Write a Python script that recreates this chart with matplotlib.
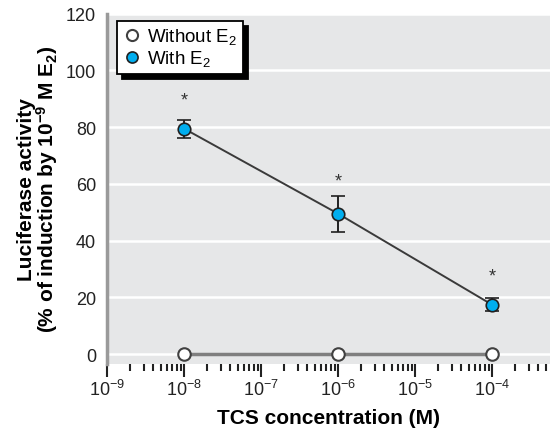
import numpy as np
import matplotlib.pyplot as plt
from matplotlib.lines import Line2D
from matplotlib.ticker import LogLocator, NullFormatter

# data
conc = [1e-8, 1e-6, 1e-4]
with_e2 = [79.5, 49.5, 17.4]
with_e2_err = [3.2, 6.3, 2.2]
without_e2 = [0, 0, 0]
star_y = [89.5, 61, 27.5]

plt.rcParams['font.family'] = ['Liberation Sans', 'DejaVu Sans']
plt.rcParams['mathtext.fontset'] = 'custom'
plt.rcParams['mathtext.rm'] = 'Liberation Sans'
plt.rcParams['mathtext.bf'] = 'Liberation Sans:bold'
plt.rcParams['mathtext.default'] = 'regular'

fig = plt.figure(figsize=(5.52, 4.35), dpi=100)
ax = fig.add_axes([0.194, 0.161, 0.802, 0.805])
ax.set_facecolor('#e6e7e8')

ax.set_xscale('log')
ax.set_xlim(1e-9, 10 ** -3.25)
ax.set_ylim(-3.5, 120)

# grid
for yy in range(0, 121, 20):
    ax.axhline(yy, color='white', lw=1.8, zorder=1)

# without E2
ax.plot(conc, without_e2, color='#7f7f7f', lw=2.5, zorder=3,
        marker='o', ms=9, mfc='white', mec='#404040', mew=1.5)

# with E2
ax.errorbar(conc, with_e2, yerr=with_e2_err, color='#3a3a3a', lw=1.4, zorder=4,
            marker='o', ms=9, mfc='#00aeef', mec='#202020', mew=1.2,
            ecolor='#202020', elinewidth=1.4, capsize=5, capthick=1.4)

for c, s in zip(conc, star_y):
    ax.text(c, s, '*', ha='center', va='center', fontsize=13, color='#333333')

# spines
for side in ['top', 'right', 'bottom']:
    ax.spines[side].set_visible(False)
ax.spines['left'].set_color('#9a9a9a')
ax.spines['left'].set_linewidth(2.5)

ax.set_yticks(range(0, 121, 20))
ax.tick_params(axis='y', length=0, pad=8, labelsize=13, labelcolor='#222222')

ax.xaxis.set_major_locator(LogLocator(base=10, numticks=20))
ax.xaxis.set_minor_locator(LogLocator(base=10, subs=np.arange(2, 10), numticks=20))
ax.xaxis.set_minor_formatter(NullFormatter())
ax.set_xticks([1e-9, 1e-8, 1e-7, 1e-6, 1e-5, 1e-4])
ax.set_xticklabels(['$10^{-9}$', '$10^{-8}$', '$10^{-7}$', '$10^{-6}$',
                    '$10^{-5}$', '$10^{-4}$'])
ax.tick_params(axis='x', which='major', length=9, width=1.5, color='#222222',
               labelsize=13, labelcolor='#222222', pad=2)
ax.tick_params(axis='x', which='minor', length=5, width=1.5, color='#222222')

ax.set_xlabel('TCS concentration (M)', fontsize=15, fontweight='bold', labelpad=6)
ax.set_ylabel('Luciferase activity\n(% of induction by 10$^{-9}$ M E$_2$)',
              fontsize=15, fontweight='bold', labelpad=4, linespacing=0.9)

handles = [
    Line2D([], [], ls='none', marker='o', ms=8, mfc='white', mec='#404040', mew=1.5),
    Line2D([], [], ls='none', marker='o', ms=8, mfc='#00aeef', mec='#202020', mew=1.2),
]
leg = ax.legend(handles, ['Without E$_2$', 'With E$_2$'], loc='upper left',
                bbox_to_anchor=(0.023, 0.98), borderaxespad=0, frameon=True,
                fancybox=False, shadow={'color': 'black', 'alpha': 1, 'ox': 3.5, 'oy': -4},
                edgecolor='black', fontsize=13.5, handletextpad=0.3, borderpad=0.3,
                labelspacing=0.1, handlelength=1.0)
leg.get_frame().set_linewidth(1.3)
leg.get_frame().set_facecolor('white')

fig.savefig('out.png', dpi=100)
